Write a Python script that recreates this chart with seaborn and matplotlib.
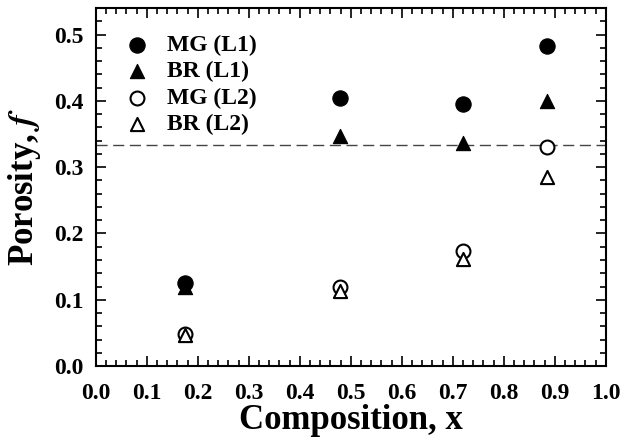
import numpy as np
import pandas as pd
import matplotlib
matplotlib.use("Agg")
import matplotlib.pyplot as plt
import matplotlib.ticker as mtick
import seaborn as sns

composition = [0.175, 0.478, 0.72, 0.884]
mg_l1 = [0.125, 0.404, 0.395, 0.483]
br_l1 = [0.120, 0.347, 0.336, 0.400]
mg_l2 = [0.049, 0.119, 0.173, 0.331]
br_l2 = [0.047, 0.113, 0.162, 0.285]
series_names = ["MG (L1)", "BR (L1)", "MG (L2)", "BR (L2)"]
threshold = 0.334

sns.set_theme(style="ticks")
plt.rcParams['font.family'] = ['Liberation Serif', 'DejaVu Serif']
plt.rcParams['font.weight'] = 'bold'
plt.rcParams['mathtext.fontset'] = 'stix'
plt.rcParams['text.color'] = 'black'
plt.rcParams['axes.labelcolor'] = 'black'
plt.rcParams['xtick.color'] = 'black'
plt.rcParams['ytick.color'] = 'black'

rows = []
for name, vals in zip(series_names, [mg_l1, br_l1, mg_l2, br_l2]):
    for x, y in zip(composition, vals):
        rows.append({"x": x, "f": y, "series": name})
df = pd.DataFrame(rows)

fig = plt.figure(figsize=(6.35, 4.47), dpi=100)
ax = fig.add_axes([0.151, 0.181, 0.803, 0.801])

# filled / open styles per series
styles = {
    "MG (L1)": dict(marker="o", s=120, color="black", edgecolor="black"),
    "BR (L1)": dict(marker="^", s=105, color="black", edgecolor="black"),
    "MG (L2)": dict(marker="o", s=100, facecolor="white", edgecolor="black", linewidth=1.5),
    "BR (L2)": dict(marker="^", s=90, facecolor="white", edgecolor="black", linewidth=1.5),
}
for name in series_names:
    sub = df[df["series"] == name]
    sns.scatterplot(data=sub, x="x", y="f", ax=ax, label=name, zorder=3, **styles[name])

ax.axhline(threshold, color="#444444", linestyle=(0, (8, 4)), linewidth=1.0, zorder=1)

ax.set_xlim(0, 1.0)
ax.set_ylim(0, 0.54)
ax.xaxis.set_major_locator(mtick.MultipleLocator(0.1))
ax.xaxis.set_minor_locator(mtick.MultipleLocator(0.02))
ax.yaxis.set_major_locator(mtick.MultipleLocator(0.1))
ax.yaxis.set_minor_locator(mtick.MultipleLocator(0.02))
ax.xaxis.set_major_formatter(mtick.FormatStrFormatter("%.1f"))
ax.yaxis.set_major_formatter(mtick.FormatStrFormatter("%.1f"))
ax.tick_params(which="both", direction="in", top=True, right=True, color="black", width=1.2)
ax.tick_params(which="major", length=7, labelsize=17)
ax.tick_params(axis="x", which="major", pad=12)
ax.tick_params(axis="y", which="major", pad=9)
ax.tick_params(which="minor", length=4)
for lab in ax.get_xticklabels() + ax.get_yticklabels():
    lab.set_fontweight("bold")
for sp in ax.spines.values():
    sp.set_linewidth(1.5)
    sp.set_color("black")

ax.set_xlabel("Composition, x", fontsize=25, fontweight="bold", labelpad=0)
ax.set_ylabel(r"Porosity, $\mathit{f}$", fontsize=25, fontweight="bold", labelpad=8)

ax.legend(loc="upper left", frameon=False, handlelength=1.0, handletextpad=0.8,
          labelspacing=0.2, borderaxespad=0.0, bbox_to_anchor=(0.038, 0.952),
          prop={"weight": "bold", "size": 17})

fig.savefig("out.png", dpi=100)
